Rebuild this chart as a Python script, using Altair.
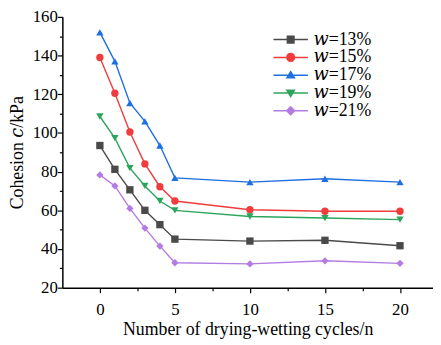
import altair as alt
import pandas as pd

cycles = [0, 1, 2, 3, 4, 5, 10, 15, 20]
series_names = ["𝑤=13%", "𝑤=15%", "𝑤=17%", "𝑤=19%", "𝑤=21%"]
w13 = [93.5, 81.2, 70.6, 60.0, 52.6, 45.1, 44.1, 44.5, 41.7]
w15 = [139.0, 120.5, 100.5, 84.0, 72.2, 64.8, 60.3, 59.5, 59.5]
w17 = [152.0, 137.0, 115.5, 106.0, 93.5, 76.8, 74.6, 76.3, 74.6]
w19 = [108.5, 97.3, 81.8, 72.6, 64.8, 60.0, 56.8, 56.0, 55.2]
w21 = [78.3, 72.6, 61.0, 50.8, 41.5, 32.9, 32.3, 33.9, 32.6]
colors = ["#4a4a4a", "#f03c3c", "#1e6fe0", "#2ca55c", "#b27ce3"]
shapes = ["square", "circle", "triangle-up", "triangle-down", "diamond"]

line_seg = "M-2.05,-0.09L2.05,-0.09L2.05,0.09L-2.05,0.09Z"
legend_shapes = [
    line_seg + "M-0.48,-0.48L0.48,-0.48L0.48,0.48L-0.48,0.48Z",
    line_seg + "M-0.54,0a0.54,0.54 0 1,1 1.08,0a0.54,0.54 0 1,1 -1.08,0Z",
    line_seg + "M0,-0.6L0.6,0.4L-0.6,0.4Z",
    line_seg + "M0,0.6L-0.6,-0.4L0.6,-0.4Z",
    line_seg + "M0,-0.6L0.6,0L0,0.6L-0.6,0Z",
]

rows = []
for name, vals in zip(series_names, [w13, w15, w17, w19, w21]):
    for n, v in zip(cycles, vals):
        rows.append({"n": n, "c": v, "series": name})
df = pd.DataFrame(rows)

FONT = "Liberation Serif, DejaVu Serif, serif"

x_enc = alt.X(
    "n:Q",
    scale=alt.Scale(domain=[-2.5, 22.2], nice=False, zero=False),
    axis=alt.Axis(
        title="Number of drying-wetting cycles/n",
        values=[0, 2.5, 5, 7.5, 10, 12.5, 15, 17.5, 20],
        labelExpr="datum.value % 5 === 0 ? datum.label : ''",
        tickSize={"condition": {"test": "datum.value % 5 === 0", "value": 5}, "value": 3},
        titlePadding=3,
        labelPadding=9,
    ),
)
y_enc = alt.Y(
    "c:Q",
    scale=alt.Scale(domain=[20, 160], nice=False, zero=False),
    axis=alt.Axis(
        title="Cohesion 𝑐/kPa",
        values=list(range(20, 161, 10)),
        labelExpr="datum.value % 20 === 0 ? datum.label : ''",
        tickSize={"condition": {"test": "datum.value % 20 === 0", "value": 5}, "value": 3},
        titlePadding=6,
        labelPadding=0,
    ),
)

color_plain = alt.Color("series:N", scale=alt.Scale(domain=series_names, range=colors), legend=None)

lines = alt.Chart(df).mark_line(strokeWidth=1.4).encode(x=x_enc, y=y_enc, color=color_plain)
points = alt.Chart(df).mark_point(filled=True, size=55, opacity=1).encode(
    x=x_enc,
    y=y_enc,
    color=color_plain,
    shape=alt.Shape("series:N", scale=alt.Scale(domain=series_names, range=shapes), legend=None),
)
legend_layer = alt.Chart(df).transform_filter("false").mark_point(filled=True, opacity=1).encode(
    x=x_enc,
    y=y_enc,
    color=alt.Color(
        "series:N",
        scale=alt.Scale(domain=series_names, range=colors),
        legend=alt.Legend(
            title=None,
            orient="none",
            legendX=222,
            legendY=14,
            symbolSize=289,
            symbolStrokeWidth=0,
            labelFont=FONT,
            labelFontSize=18,
            labelOffset=14,
            rowPadding=0,
            labelColor="black",
        ),
    ),
    shape=alt.Shape("series:N", scale=alt.Scale(domain=series_names, range=legend_shapes)),
)

chart = (
    alt.layer(lines, points, legend_layer)
    .resolve_scale(color="independent", shape="independent")
    .properties(
        width=375,
        height=274,
        autosize=alt.AutoSizeParams(type="none"),
        padding={"left": 55, "top": 7, "right": 0, "bottom": 56},
    )
    .configure_view(stroke=None)
    .configure_axis(
        grid=False,
        domainColor="black",
        domainWidth=1.5,
        tickColor="black",
        tickWidth=1.2,
        labelColor="black",
        titleColor="black",
        labelFont=FONT,
        titleFont=FONT,
        labelFontSize=17,
        titleFontSize=18,
        titleFontWeight="normal",
    )
)

chart.save("out.html", embed_options={"renderer": "svg", "actions": False})
